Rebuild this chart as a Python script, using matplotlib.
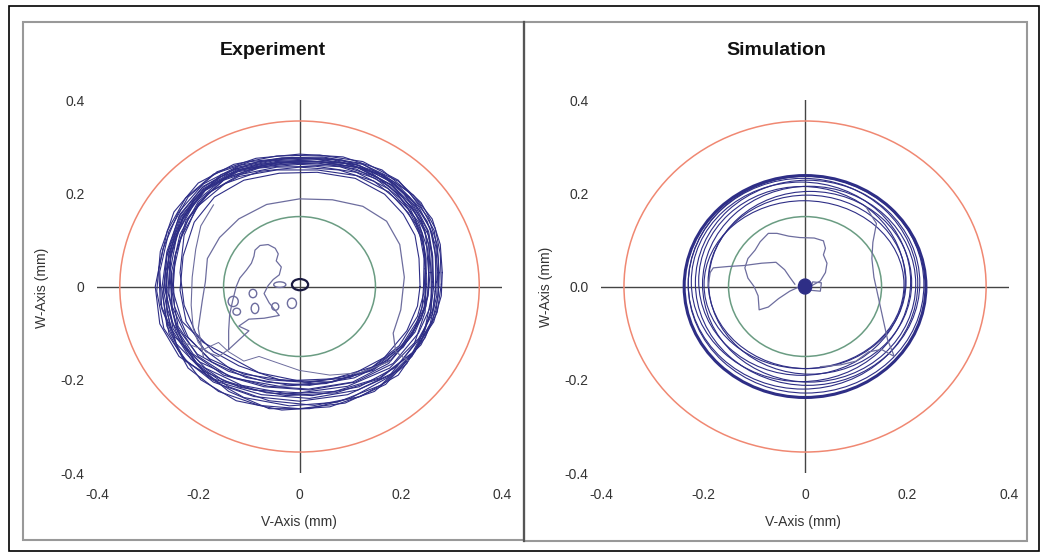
import matplotlib
matplotlib.use('Agg')
import matplotlib.pyplot as plt
from matplotlib.patches import Circle, Ellipse, Rectangle

plt.rcParams['font.family'] = ['Liberation Sans', 'DejaVu Sans']

# axis ticks
tick_vals = [-0.4, -0.2, 0.0, 0.2, 0.4]
x_tick_labels = ['-0.4', '-0.2', '0', '0.2', '0.4']
exp_y_tick_labels = ['-0.4', '-0.2', '0', '0.2', '0.4']
sim_y_tick_labels = ['-0.4', '-0.2', '0.0', '0.2', '0.4']

# reference circles (mm)
clearance_radius = 0.355
inner_radius = 0.15

# experiment: measured orbit loops (v, w) in mm
exp_loop_1 = [(0.275, 0.00), (0.274, 0.06), (0.266, 0.12), (0.238, 0.175), (0.195, 0.228), (0.125, 0.268), (0.040, 0.282), (-0.045, 0.280), (-0.130, 0.262), (-0.200, 0.222), (-0.248, 0.160), (-0.275, 0.075), (-0.282, -0.010), (-0.268, -0.090), (-0.225, -0.160), (-0.160, -0.205), (-0.075, -0.232), (0.020, -0.240), (0.115, -0.222), (0.195, -0.180), (0.248, -0.110), (0.270, -0.050)]
exp_loop_2 = [(0.270, 0.01), (0.268, 0.07), (0.258, 0.125), (0.228, 0.178), (0.182, 0.225), (0.112, 0.262), (0.030, 0.274), (-0.050, 0.270), (-0.128, 0.252), (-0.192, 0.212), (-0.238, 0.150), (-0.262, 0.068), (-0.268, -0.012), (-0.255, -0.088), (-0.215, -0.155), (-0.150, -0.202), (-0.065, -0.228), (0.025, -0.234), (0.118, -0.215), (0.192, -0.172), (0.242, -0.105), (0.265, -0.045)]
exp_loop_3 = [(0.262, 0.00), (0.262, 0.06), (0.255, 0.11), (0.225, 0.165), (0.185, 0.215), (0.120, 0.255), (0.040, 0.268), (-0.040, 0.266), (-0.120, 0.250), (-0.185, 0.210), (-0.230, 0.150), (-0.258, 0.070), (-0.265, -0.010), (-0.250, -0.080), (-0.210, -0.145), (-0.150, -0.190), (-0.070, -0.215), (0.020, -0.222), (0.110, -0.205), (0.185, -0.165), (0.235, -0.100), (0.258, -0.045)]
exp_loop_4 = [(0.238, 0.00), (0.236, 0.06), (0.228, 0.11), (0.205, 0.155), (0.168, 0.198), (0.110, 0.232), (0.035, 0.245), (-0.040, 0.243), (-0.110, 0.228), (-0.168, 0.192), (-0.208, 0.138), (-0.230, 0.065), (-0.236, -0.008), (-0.224, -0.075), (-0.188, -0.135), (-0.135, -0.178), (-0.060, -0.200), (0.020, -0.206), (0.102, -0.190), (0.168, -0.152), (0.212, -0.095), (0.233, -0.042)]
exp_loop_5 = [(0.265, 0.00), (0.263, 0.065), (0.255, 0.118), (0.230, 0.170), (0.188, 0.220), (0.118, 0.260), (0.035, 0.272), (-0.048, 0.268), (-0.125, 0.250), (-0.190, 0.210), (-0.236, 0.148), (-0.262, 0.065), (-0.270, -0.020), (-0.258, -0.100), (-0.220, -0.175), (-0.160, -0.225), (-0.080, -0.255), (0.000, -0.262), (0.090, -0.250), (0.170, -0.210), (0.228, -0.140), (0.258, -0.060)]
exp_loop_6 = [(0.268, -0.01), (0.270, 0.055), (0.262, 0.115), (0.235, 0.172), (0.190, 0.222), (0.122, 0.264), (0.045, 0.278), (-0.035, 0.276), (-0.118, 0.260), (-0.190, 0.220), (-0.240, 0.158), (-0.270, 0.080), (-0.285, 0.000), (-0.276, -0.080), (-0.238, -0.150), (-0.172, -0.198), (-0.090, -0.222), (0.000, -0.228), (0.095, -0.214), (0.178, -0.175), (0.235, -0.112), (0.262, -0.060)]
exp_loop_7 = [(0.250, 0.005), (0.248, 0.065), (0.240, 0.115), (0.215, 0.165), (0.175, 0.210), (0.112, 0.245), (0.032, 0.258), (-0.045, 0.256), (-0.118, 0.240), (-0.178, 0.202), (-0.220, 0.145), (-0.245, 0.070), (-0.250, -0.010), (-0.232, -0.075), (-0.190, -0.120), (-0.140, -0.150), (-0.080, -0.185), (0.010, -0.205), (0.100, -0.195), (0.175, -0.158), (0.225, -0.098), (0.246, -0.045)]
exp_loop_8 = [(0.280, 0.005), (0.278, 0.070), (0.268, 0.125), (0.240, 0.180), (0.195, 0.226), (0.125, 0.262), (0.045, 0.276), (-0.040, 0.274), (-0.122, 0.256), (-0.190, 0.215), (-0.236, 0.155), (-0.262, 0.075), (-0.272, -0.005), (-0.262, -0.085), (-0.228, -0.155), (-0.170, -0.205), (-0.090, -0.236), (0.000, -0.246), (0.095, -0.232), (0.180, -0.190), (0.240, -0.125), (0.272, -0.055)]
exp_loop_9 = [(0.255, 0.00), (0.255, 0.062), (0.248, 0.116), (0.222, 0.170), (0.180, 0.218), (0.115, 0.255), (0.038, 0.268), (-0.042, 0.266), (-0.122, 0.248), (-0.188, 0.206), (-0.232, 0.146), (-0.255, 0.068), (-0.260, -0.012), (-0.244, -0.085), (-0.202, -0.145), (-0.140, -0.182), (-0.065, -0.205), (0.020, -0.212), (0.108, -0.196), (0.180, -0.158), (0.228, -0.098), (0.250, -0.042)]
exp_loop_10 = [(0.262, 0.010), (0.262, 0.070), (0.252, 0.122), (0.226, 0.172), (0.182, 0.218), (0.115, 0.255), (0.036, 0.268), (-0.044, 0.266), (-0.124, 0.248), (-0.190, 0.208), (-0.234, 0.148), (-0.258, 0.070), (-0.264, -0.010), (-0.250, -0.090), (-0.205, -0.165), (-0.140, -0.215), (-0.060, -0.245), (0.030, -0.255), (0.120, -0.236), (0.195, -0.190), (0.240, -0.120), (0.260, -0.050)]
exp_loop_11 = [(0.245, 0.00), (0.246, 0.060), (0.238, 0.110), (0.215, 0.158), (0.176, 0.203), (0.112, 0.238), (0.035, 0.250), (-0.045, 0.250), (-0.120, 0.236), (-0.182, 0.200), (-0.224, 0.142), (-0.246, 0.065), (-0.252, -0.010), (-0.240, -0.085), (-0.200, -0.150), (-0.140, -0.192), (-0.062, -0.214), (0.018, -0.220), (0.105, -0.205), (0.176, -0.165), (0.222, -0.105), (0.242, -0.045)]
exp_loop_12 = [(0.250, 0.00), (0.250, 0.06), (0.242, 0.115), (0.218, 0.168), (0.178, 0.215), (0.112, 0.252), (0.035, 0.265), (-0.045, 0.262), (-0.122, 0.246), (-0.186, 0.206), (-0.230, 0.145), (-0.254, 0.068), (-0.258, -0.015), (-0.240, -0.100), (-0.200, -0.170), (-0.140, -0.225), (-0.060, -0.262), (0.020, -0.262), (0.100, -0.240), (0.175, -0.195), (0.226, -0.125), (0.248, -0.055)]
exp_loop_13 = [(0.276, 0.030), (0.272, 0.090), (0.255, 0.146), (0.218, 0.200), (0.163, 0.250), (0.086, 0.278), (0.000, 0.284), (-0.086, 0.275), (-0.163, 0.246), (-0.220, 0.192), (-0.258, 0.118), (-0.276, 0.032), (-0.272, -0.048), (-0.244, -0.122), (-0.192, -0.180), (-0.118, -0.216), (-0.026, -0.234), (0.072, -0.228), (0.158, -0.198), (0.224, -0.142), (0.262, -0.076), (0.274, -0.020)]
exp_loop_14 = [(0.250, 0.028), (0.246, 0.083), (0.230, 0.133), (0.197, 0.182), (0.147, 0.226), (0.078, 0.250), (0.000, 0.256), (-0.078, 0.247), (-0.147, 0.221), (-0.200, 0.173), (-0.234, 0.106), (-0.250, 0.028), (-0.247, -0.043), (-0.220, -0.109), (-0.173, -0.162), (-0.106, -0.195), (-0.024, -0.211), (0.065, -0.205), (0.143, -0.179), (0.201, -0.128), (0.236, -0.068), (0.248, -0.019)]
exp_loop_15 = [(0.273, 0.030), (0.269, 0.087), (0.252, 0.140), (0.217, 0.192), (0.165, 0.238), (0.092, 0.264), (0.010, 0.269), (-0.072, 0.260), (-0.145, 0.233), (-0.200, 0.182), (-0.236, 0.112), (-0.253, 0.030), (-0.252, -0.050), (-0.228, -0.130), (-0.180, -0.195), (-0.110, -0.238), (-0.020, -0.256), (0.075, -0.248), (0.160, -0.212), (0.222, -0.150), (0.258, -0.080), (0.271, -0.020)]
exp_loop_16 = [(0.248, 0.038), (0.244, 0.095), (0.227, 0.148), (0.192, 0.200), (0.140, 0.246), (0.067, 0.272), (-0.015, 0.277), (-0.097, 0.268), (-0.170, 0.241), (-0.225, 0.190), (-0.261, 0.120), (-0.278, 0.038), (-0.275, -0.037), (-0.247, -0.107), (-0.197, -0.162), (-0.127, -0.197), (-0.040, -0.214), (0.053, -0.208), (0.135, -0.180), (0.197, -0.127), (0.233, -0.064), (0.246, -0.012)]
exp_loop_17 = [(0.258, 0.030), (0.255, 0.090), (0.240, 0.145), (0.207, 0.198), (0.155, 0.245), (0.082, 0.272), (0.000, 0.276), (-0.082, 0.268), (-0.155, 0.240), (-0.208, 0.186), (-0.242, 0.112), (-0.256, 0.030), (-0.252, -0.042), (-0.225, -0.105), (-0.178, -0.155), (-0.110, -0.188), (-0.025, -0.202), (0.066, -0.198), (0.146, -0.172), (0.205, -0.125), (0.240, -0.068), (0.254, -0.020)]
exp_loop_18 = [(0.255, 0.030), (0.251, 0.086), (0.235, 0.138), (0.200, 0.188), (0.150, 0.232), (0.080, 0.257), (0.000, 0.262), (-0.080, 0.254), (-0.150, 0.228), (-0.200, 0.178), (-0.228, 0.110), (-0.236, 0.030), (-0.228, -0.040), (-0.205, -0.100), (-0.170, -0.140), (-0.120, -0.170), (-0.040, -0.200), (0.060, -0.205), (0.145, -0.180), (0.205, -0.130), (0.240, -0.070), (0.253, -0.020)]
exp_loop_19 = [(0.282, 0.030), (0.278, 0.090), (0.262, 0.145), (0.225, 0.196), (0.165, 0.240), (0.088, 0.265), (0.000, 0.270), (-0.082, 0.262), (-0.155, 0.236), (-0.210, 0.185), (-0.246, 0.114), (-0.264, 0.032), (-0.262, -0.046), (-0.236, -0.118), (-0.186, -0.175), (-0.114, -0.212), (-0.025, -0.230), (0.070, -0.225), (0.158, -0.196), (0.225, -0.140), (0.265, -0.076), (0.280, -0.020)]
exp_loop_20 = [(0.260, 0.030), (0.256, 0.087), (0.240, 0.140), (0.205, 0.190), (0.153, 0.235), (0.080, 0.260), (0.000, 0.265), (-0.080, 0.256), (-0.152, 0.230), (-0.207, 0.180), (-0.243, 0.110), (-0.262, 0.028), (-0.262, -0.055), (-0.240, -0.135), (-0.195, -0.200), (-0.125, -0.245), (-0.035, -0.265), (0.060, -0.258), (0.148, -0.225), (0.212, -0.165), (0.248, -0.090), (0.260, -0.025)]
exp_loops = [exp_loop_1, exp_loop_2, exp_loop_3, exp_loop_4, exp_loop_5, exp_loop_6, exp_loop_7,
             exp_loop_8, exp_loop_9, exp_loop_10, exp_loop_11, exp_loop_12, exp_loop_13, exp_loop_14,
             exp_loop_15, exp_loop_16, exp_loop_17, exp_loop_18, exp_loop_19, exp_loop_20]

# experiment: start-up transient paths
exp_spiral = [(-0.140, -0.135), (-0.140, -0.095), (-0.138, -0.060), (-0.132, -0.030), (-0.125, 0.000), (-0.118, 0.018), (-0.105, 0.035), (-0.095, 0.050), (-0.090, 0.065), (-0.088, 0.078), (-0.078, 0.088), (-0.062, 0.090), (-0.048, 0.082), (-0.042, 0.070), (-0.046, 0.055), (-0.036, 0.042), (-0.040, 0.025), (-0.052, 0.015), (-0.062, 0.002), (-0.070, -0.015), (-0.060, -0.035), (-0.040, -0.062), (-0.070, -0.068), (-0.100, -0.070), (-0.120, -0.085), (-0.100, -0.095), (-0.140, -0.135)]
exp_drift = [(-0.190, -0.150), (-0.200, -0.090), (-0.192, -0.030), (-0.186, 0.010), (-0.182, 0.060), (-0.158, 0.105), (-0.120, 0.145), (-0.065, 0.176), (0.000, 0.188), (0.065, 0.186), (0.125, 0.172), (0.172, 0.140), (0.198, 0.090), (0.207, 0.020), (0.200, -0.050), (0.185, -0.100), (0.190, -0.140), (0.215, -0.160)]
exp_wander = [(-0.140, -0.135), (-0.160, -0.150), (-0.185, -0.140), (-0.200, -0.120), (-0.210, -0.090), (-0.214, -0.040), (-0.212, 0.020), (-0.205, 0.080), (-0.195, 0.130), (-0.170, 0.175)]
exp_ripple = [(-0.230, -0.120), (-0.190, -0.135), (-0.160, -0.120), (-0.140, -0.140), (-0.110, -0.160), (-0.080, -0.150), (-0.040, -0.165), (0.000, -0.180), (0.060, -0.190), (0.120, -0.185), (0.180, -0.160)]

# experiment: small eddies near the centre (centre v, centre w, width, height)
exp_eddy_v = [-0.131, -0.092, -0.088, -0.048, -0.124, -0.039, -0.015]
exp_eddy_w = [-0.032, -0.015, -0.047, -0.043, -0.054, 0.004, -0.036]
exp_eddy_width = [0.020, 0.015, 0.015, 0.014, 0.015, 0.024, 0.018]
exp_eddy_height = [0.022, 0.018, 0.022, 0.016, 0.015, 0.012, 0.022]
exp_start = (0.001, 0.004, 0.032, 0.024)

# simulation: orbit rings (centre v, centre w, width, height)
sim_ring_v = [0.000, 0.002, -0.004, 0.005, -0.008, 0.008, -0.006, 0.010, 0.004, -0.002]
sim_ring_w = [0.000, 0.004, 0.006, 0.008, 0.010, 0.005, 0.012, 0.008, 0.010, 0.004]
sim_ring_width = [0.474, 0.462, 0.450, 0.440, 0.430, 0.418, 0.405, 0.398, 0.388, 0.392]
sim_ring_height = [0.476, 0.465, 0.452, 0.440, 0.428, 0.420, 0.405, 0.392, 0.372, 0.360]

# simulation: start-up transient paths
sim_blob = [(0.010, 0.000), (0.030, 0.012), (0.040, 0.030), (0.043, 0.050), (0.036, 0.068), (0.040, 0.082), (0.036, 0.098), (0.018, 0.104), (-0.010, 0.105), (-0.032, 0.108), (-0.055, 0.114), (-0.072, 0.114), (-0.088, 0.096), (-0.098, 0.078), (-0.112, 0.060), (-0.118, 0.040), (-0.112, 0.018), (-0.100, 0.000), (-0.092, -0.020), (-0.090, -0.050), (-0.072, -0.044), (-0.052, -0.026), (-0.030, -0.010), (-0.010, 0.000)]
sim_link = [(-0.190, 0.000), (-0.186, 0.030), (-0.180, 0.040), (-0.150, 0.043), (-0.120, 0.045), (-0.085, 0.050), (-0.057, 0.052), (-0.040, 0.036), (-0.030, 0.020), (-0.020, 0.005)]
sim_side = [(0.120, 0.170), (0.140, 0.135), (0.133, 0.095), (0.131, 0.060), (0.135, 0.020), (0.145, -0.030), (0.155, -0.080), (0.162, -0.115), (0.175, -0.150), (0.150, -0.135), (0.125, -0.140), (0.100, -0.160), (0.070, -0.168), (0.030, -0.172)]
sim_nub = [(0.010, -0.008), (0.030, -0.010), (0.032, 0.008), (0.015, 0.010)]
sim_start = (0.000, 0.000, 0.026, 0.032)

navy = '#2e2e86'
light = '#6d6d9e'
red = '#f08872'
green = '#6a9c82'
text_col = '#333333'

fig = plt.figure(figsize=(10.42, 5.52), dpi=100)
ax_exp = fig.add_axes([0.0931, 0.1431, 0.3887, 0.6757])
ax_sim = fig.add_axes([0.5768, 0.1431, 0.3916, 0.6757])


def setup(ax, ylabels):
    ax.set_xlim(-0.4, 0.4)
    ax.set_ylim(-0.4, 0.4)
    for s in ax.spines.values():
        s.set_visible(False)
    ax.set_xticks(tick_vals)
    ax.set_xticklabels(x_tick_labels)
    ax.set_yticks(tick_vals)
    ax.set_yticklabels(ylabels)
    ax.tick_params(length=0, labelsize=10, labelcolor=text_col)
    ax.tick_params(axis='y', pad=9)
    ax.tick_params(axis='x', pad=11)
    ax.plot([-0.4, 0.4], [0, 0], color='#444444', lw=1, zorder=1)
    ax.plot([0, 0], [-0.4, 0.4], color='#444444', lw=1, zorder=1)
    ax.add_patch(Circle((0, 0), clearance_radius, fill=False, ec=red, lw=1.1, zorder=2))
    ax.add_patch(Circle((0, 0), inner_radius, fill=False, ec=green, lw=1.1, zorder=2))


def trace(ax, pts, color, lw, closed=False):
    if closed:
        pts = pts + [pts[0]]
    v, w = zip(*pts)
    ax.plot(v, w, color=color, lw=lw, zorder=3, solid_joinstyle='round')


setup(ax_exp, exp_y_tick_labels)
setup(ax_sim, sim_y_tick_labels)

# experiment
for loop in exp_loops:
    trace(ax_exp, loop, navy, 0.8, closed=True)
trace(ax_exp, exp_drift, light, 0.9)
trace(ax_exp, exp_wander, light, 0.8)
trace(ax_exp, exp_ripple, light, 0.7)
trace(ax_exp, exp_spiral, light, 0.9)
for cv, cw, ew, eh in zip(exp_eddy_v, exp_eddy_w, exp_eddy_width, exp_eddy_height):
    ax_exp.add_patch(Ellipse((cv, cw), ew, eh, fill=False, ec=light, lw=1.0, zorder=3))
ax_exp.add_patch(Ellipse(exp_start[:2], exp_start[2], exp_start[3], fill=False, ec='#1a1a40', lw=1.6, zorder=4))

# simulation
for i, (cv, cw, ew, eh) in enumerate(zip(sim_ring_v, sim_ring_w, sim_ring_width, sim_ring_height)):
    ax_sim.add_patch(Ellipse((cv, cw), ew, eh, fill=False, ec=navy,
                             lw=2.2 if i == 0 else 0.8, zorder=3))
trace(ax_sim, sim_blob, light, 0.9, closed=True)
trace(ax_sim, sim_link, light, 0.9)
trace(ax_sim, sim_side, light, 0.9)
trace(ax_sim, sim_nub, light, 0.9, closed=True)
ax_sim.add_patch(Ellipse(sim_start[:2], sim_start[2], sim_start[3], fc=navy, ec=navy, lw=1, zorder=4))

# titles and axis labels
fig.text(0.262, 0.909, 'Experiment', ha='center', va='center', fontsize=14, fontweight='bold', color='#111111')
fig.text(0.7447, 0.909, 'Simulation', ha='center', va='center', fontsize=14, fontweight='bold', color='#111111')
fig.text(0.0403, 0.478, 'W-Axis (mm)', rotation=90, ha='center', va='center', fontsize=10, color=text_col)
fig.text(0.524, 0.480, 'W-Axis (mm)', rotation=90, ha='center', va='center', fontsize=10, color=text_col)
fig.text(0.287, 0.0543, 'V-Axis (mm)', ha='center', va='center', fontsize=10, color=text_col)
fig.text(0.7706, 0.0543, 'V-Axis (mm)', ha='center', va='center', fontsize=10, color=text_col)

# panel frames
fig.add_artist(Rectangle((0.0221, 0.0217), 0.4808, 0.9384, transform=fig.transFigure, fill=False, ec='#999999', lw=1.5))
fig.add_artist(Rectangle((0.5029, 0.0199), 0.4827, 0.9402, transform=fig.transFigure, fill=False, ec='#999999', lw=1.5))
fig.add_artist(plt.Line2D([0.5029, 0.5029], [0.0199, 0.9601], transform=fig.transFigure, color='#555555', lw=1.6))
fig.add_artist(Rectangle((0.0086, 0.0018), 0.9885, 0.9873, transform=fig.transFigure, fill=False, ec='black', lw=1.2))

fig.savefig('out.png', dpi=100)
